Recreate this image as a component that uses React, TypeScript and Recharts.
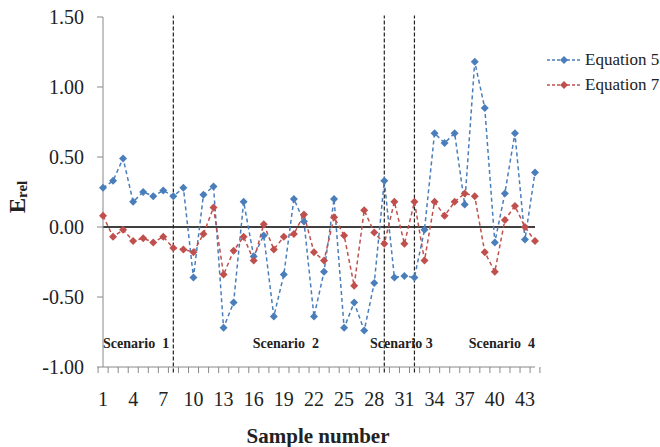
import React from 'react';
import { LineChart, Line, XAxis, YAxis, ReferenceLine, ReferenceDot, Legend } from 'recharts';

const samples = ['1','2','3','4','5','6','7','8','9','10','11','12','13','14','15','16','17','18','19','20','21','22','23','24','25','26','27','28','29','30','31','32','33','34','35','36','37','38','39','40','41','42','43','44'];

const equation5 = [0.28,0.33,0.49,0.18,0.25,0.22,0.26,0.22,0.28,-0.36,0.23,0.29,-0.72,-0.54,0.18,-0.21,-0.06,-0.64,-0.34,0.20,0.04,-0.64,-0.32,0.20,-0.72,-0.54,-0.74,-0.40,0.33,-0.36,-0.35,-0.36,-0.02,0.67,0.60,0.67,0.16,1.18,0.85,-0.11,0.24,0.67,-0.09,0.39];

const equation7 = [0.08,-0.07,-0.02,-0.10,-0.08,-0.11,-0.07,-0.15,-0.16,-0.18,-0.05,0.14,-0.34,-0.17,-0.07,-0.24,0.02,-0.16,-0.07,-0.05,0.09,-0.18,-0.24,0.07,-0.06,-0.42,0.12,-0.04,-0.12,0.18,-0.12,0.18,-0.24,0.18,0.08,0.18,0.24,0.22,-0.18,-0.32,0.05,0.15,0.00,-0.10];

const yTicks = [-1, -0.5, 0, 0.5, 1, 1.5];
const dividers = ['8', '29', '32'];
const scenarioLabels = ['Scenario  1', 'Scenario  2', 'Scenario 3', 'Scenario  4'];
const scenarioAt = ['4', '19', '30', '41'];
const scenarioLabelY = -0.83;

const data = samples.map((s, i) => ({ sample: s, eq5: equation5[i], eq7: equation7[i] }));

const BLUE = '#4a7ebb';
const RED = '#c0504d';
const FONT = 'Liberation Serif';
const AXIS = '#888888';

const makeDiamond = (color: string) => (props: any) => {
  const { cx, cy, index } = props;
  if (cx == null || cy == null) return <g key={index} />;
  const r = 4;
  return (
    <polygon
      key={index}
      points={`${cx},${cy - r} ${cx + r},${cy} ${cx},${cy + r} ${cx - r},${cy}`}
      fill={color}
      stroke="none"
    />
  );
};

const XTick = (props: any) => {
  const { x, y, payload, index } = props;
  const half = payload && payload.offset ? payload.offset : 4.91;
  const showLabel = index % 3 === 0;
  const isLast = index === samples.length - 1;
  return (
    <g>
      <line x1={x - half} x2={x - half} y1={y} y2={y + 6} stroke={AXIS} strokeWidth={1} />
      {isLast && <line x1={x + half} x2={x + half} y1={y} y2={y + 6} stroke={AXIS} strokeWidth={1} />}
      {showLabel && (
        <text x={x} y={y + 32} textAnchor="middle" dominantBaseline="central" fontSize={20} style={{ fontFamily: FONT }} fill="#222">
          {payload.value}
        </text>
      )}
    </g>
  );
};

const YTick = (props: any) => {
  const { x, y, payload } = props;
  return (
    <text x={x} y={y} textAnchor="end" dominantBaseline="central" fontSize={20} style={{ fontFamily: FONT }} fill="#222">
      {Number(payload.value).toFixed(2)}
    </text>
  );
};

const YLabel = (props: any) => {
  const cx = 17;
  const cy = 197;
  return (
    <text x={cx} y={cy} transform={`rotate(-90, ${cx}, ${cy})`} textAnchor="middle" dominantBaseline="central" style={{ fontFamily: FONT }} fontWeight="bold" fontSize={23} fill="#222">
      E<tspan fontSize={15} dy={5}>rel</tspan>
    </text>
  );
};

const XLabel = (props: any) => {
  const vb = props.viewBox || { x: 103, y: 367, width: 432, height: 80 };
  return (
    <text x={vb.x + vb.width / 2 - 1} y={436} textAnchor="middle" dominantBaseline="central" style={{ fontFamily: FONT }} fontWeight="bold" fontSize={21} fill="#222">
      Sample number
    </text>
  );
};

const LegendContent = (props: any) => {
  const items = [
    { name: 'Equation 5', color: BLUE },
    { name: 'Equation 7', color: RED },
  ];
  return (
    <div style={{ fontFamily: FONT, fontSize: 17, color: '#222' }}>
      {items.map((it) => (
        <div key={it.name} style={{ display: 'flex', alignItems: 'center', height: 25 }}>
          <svg width={36} height={12} style={{ marginRight: 3 }}>
            <line x1={1} x2={35} y1={6} y2={6} stroke={it.color} strokeWidth={1.3} strokeDasharray="3 2" />
            <polygon points="18,2 22,6 18,10 14,6" fill={it.color} />
          </svg>
          <span style={{ whiteSpace: 'pre' }}>{it.name}</span>
        </div>
      ))}
    </div>
  );
};

const scenarioLabelContent = (text: string, dx: number) => (props: any) => {
  const vb = props.viewBox || {};
  const x = (vb.x || 0) + (vb.width || 0) / 2 + dx;
  const y = (vb.y || 0) + (vb.height || 0) / 2;
  return (
    <text x={x} y={y} textAnchor="middle" dominantBaseline="central" style={{ fontFamily: FONT, whiteSpace: 'pre' }} fontWeight="bold" fontSize={14} fill="#222">
      {text}
    </text>
  );
};

const scenarioDx = [3, 2, 7, -3];

export default function App() {
  return (
    <div style={{ position: 'absolute', left: 0, top: 0, background: '#fff', fontFamily: FONT }}>
      <LineChart width={660} height={447} data={data} margin={{ top: 17, right: 125, bottom: 0, left: 0 }}>
        <XAxis
          dataKey="sample"
          interval={0}
          tick={<XTick />}
          tickLine={false}
          tickSize={0}
          tickMargin={0}
          axisLine={{ stroke: AXIS, strokeWidth: 1 }}
          height={80}
          label={<XLabel />}
        />
        <YAxis
          domain={[-1, 1.5]}
          ticks={yTicks}
          width={103}
          tickSize={6}
          tickMargin={13}
          axisLine={{ stroke: AXIS, strokeWidth: 1 }}
          tickLine={{ stroke: AXIS }}
          tick={<YTick />}
          label={<YLabel />}
        />
        <ReferenceLine y={0} stroke="#000" strokeWidth={1.5} />
        {dividers.map((d) => (
          <ReferenceLine
            key={d}
            segment={[{ x: d, y: -1.04 }, { x: d, y: 1.51 }]}
            ifOverflow="visible"
            stroke="#222"
            strokeWidth={1.2}
            strokeDasharray="4 2"
          />
        ))}
        {scenarioAt.map((s, i) => (
          <ReferenceDot key={s} x={s} y={scenarioLabelY} r={0} stroke="none" fill="none" label={scenarioLabelContent(scenarioLabels[i], scenarioDx[i])} />
        ))}
        <Legend
          layout="vertical"
          align="center"
          verticalAlign="middle"
          content={<LegendContent />}
          wrapperStyle={{ position: 'absolute', left: 546, top: 47, width: 114, height: 50 }}
        />
        <Line
          type="linear"
          dataKey="eq5"
          name="Equation 5"
          stroke={BLUE}
          strokeWidth={1.5}
          strokeDasharray="4 3"
          dot={makeDiamond(BLUE)}
          activeDot={false}
          isAnimationActive={false}
        />
        <Line
          type="linear"
          dataKey="eq7"
          name="Equation 7"
          stroke={RED}
          strokeWidth={1.5}
          strokeDasharray="4 3"
          dot={makeDiamond(RED)}
          activeDot={false}
          isAnimationActive={false}
        />
      </LineChart>
    </div>
  );
}
